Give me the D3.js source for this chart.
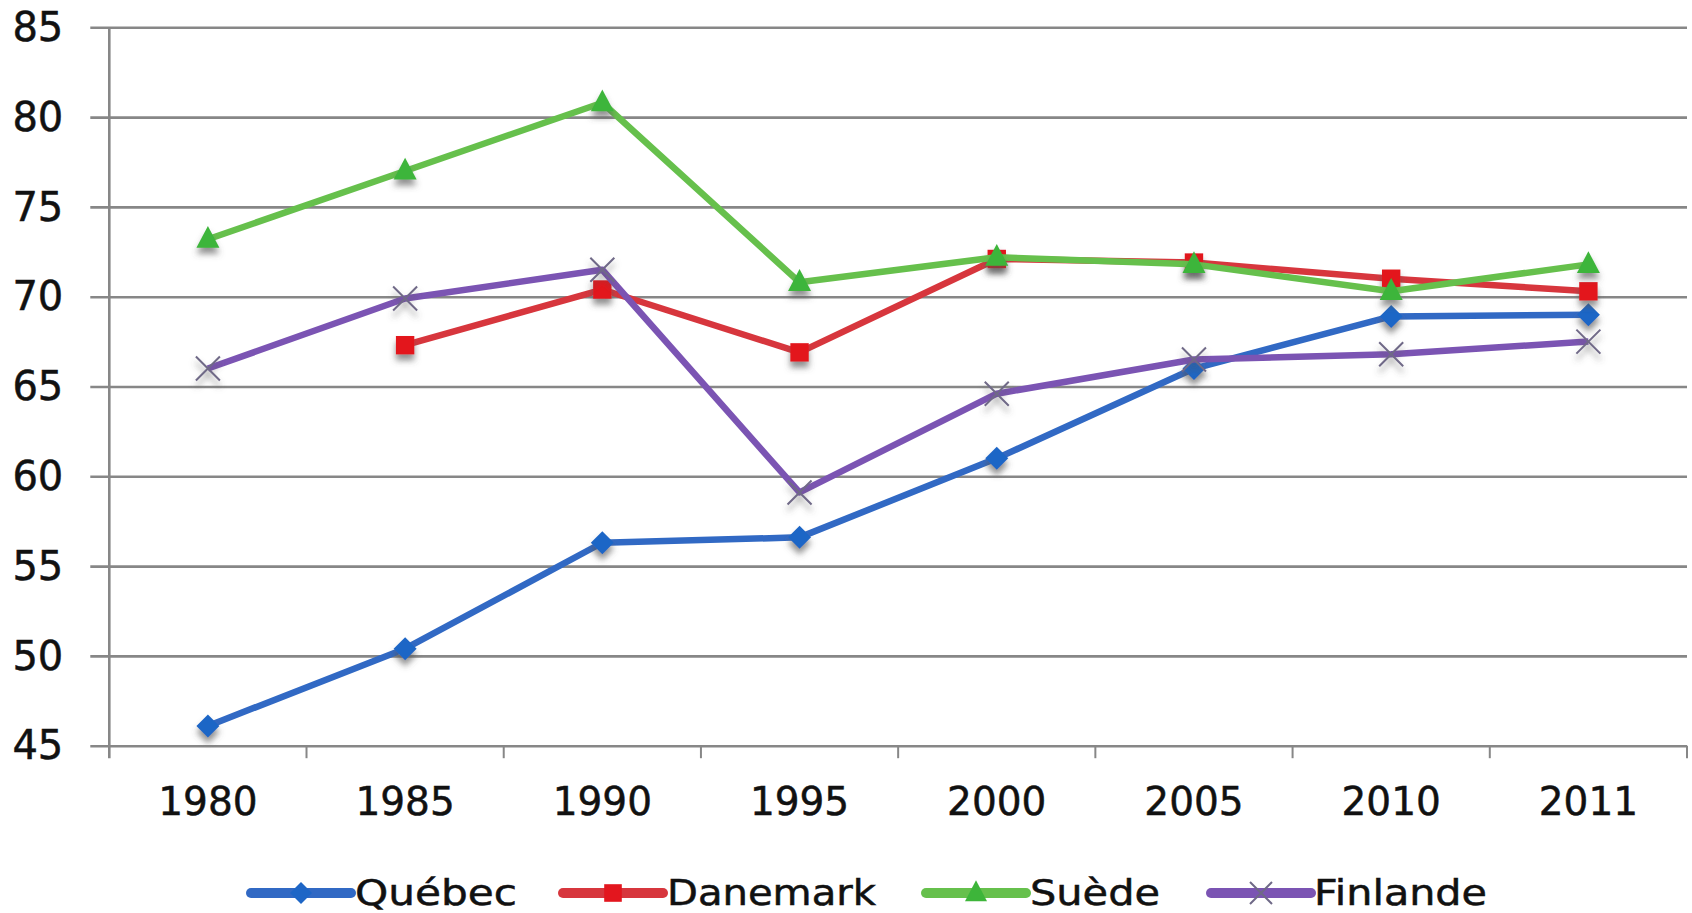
<!DOCTYPE html>
<html>
<head>
<meta charset="utf-8">
<script src="https://cdn.jsdelivr.net/npm/d3@7"></script>
<style>
  html, body { margin: 0; padding: 0; background: #fff; }
  svg { display: block; }
  text { font-family: "DejaVu Sans", sans-serif; fill: #111; stroke: #111; stroke-width: 0.5px; }
</style>
</head>
<body>
<svg id="chart" width="1692" height="913"></svg>
<script>
const years = ["1980", "1985", "1990", "1995", "2000", "2005", "2010", "2011"];
const yTicks = [45, 50, 55, 60, 65, 70, 75, 80, 85];
const quebec   = [46.1, 50.4, 56.3, 56.6, 61.0, 66.0, 68.9, 69.0];
const danemark = [null, 67.3, 70.4, 66.9, 72.1, 71.9, 71.0, 70.3];
const suede    = [73.2, 77.0, 80.8, 70.8, 72.2, 71.8, 70.3, 71.8];
const finlande = [66.0, 69.9, 71.5, 59.1, 64.6, 66.5, 66.8, 67.5];
const seriesNames = ["Québec", "Danemark", "Suède", "Finlande"];

const series = [
  { name: seriesNames[0], values: quebec,   line: "#3169C4", fill: "#1E66C6", marker: "diamond" },
  { name: seriesNames[1], values: danemark, line: "#D7363D", fill: "#E3161E", marker: "square" },
  { name: seriesNames[2], values: suede,    line: "#66C04C", fill: "#3DB53A", marker: "triangle" },
  { name: seriesNames[3], values: finlande, line: "#7B54B3", fill: "#6F6987", marker: "x" }
];

const svg = d3.select("#chart");
const plotLeft = 109.3, plotRight = 1687, plotTop = 27.3, plotBottom = 745.7;

const defs = svg.append("defs");
const f = defs.append("filter").attr("id", "shadow")
  .attr("x", "-60%").attr("y", "-60%").attr("width", "220%").attr("height", "260%");
f.append("feDropShadow").attr("dx", 0).attr("dy", 6).attr("stdDeviation", 3)
  .attr("flood-color", "#555").attr("flood-opacity", 0.65);

const x = d3.scaleBand().domain(years).range([plotLeft, plotRight]).padding(0);
const y = d3.scaleLinear().domain([45, 85]).range([plotBottom, plotTop]);
const cx = d => x(d) + x.bandwidth() / 2;

// Y axis with gridlines
const yAxis = svg.append("g").attr("transform", `translate(${plotLeft},0)`)
  .call(d3.axisLeft(y).tickValues(yTicks).tickSize(-(plotRight - plotLeft)).tickPadding(0));
yAxis.select(".domain").remove();
yAxis.selectAll(".tick line").attr("x1", -19).attr("stroke", "#878787").attr("stroke-width", 2.6);
yAxis.selectAll(".tick text")
  .attr("x", -46).attr("dy", "0.33em")
  .style("font-size", "40px").attr("fill", "#111");

// vertical axis line
svg.append("line")
  .attr("x1", plotLeft).attr("x2", plotLeft)
  .attr("y1", y(85)).attr("y2", plotBottom + 12.5)
  .attr("stroke", "#878787").attr("stroke-width", 2.6);

// X axis ticks at category boundaries
const bounds = years.map(d => x(d)).slice(1).concat([x(years[years.length - 1]) + x.bandwidth()]);
svg.append("g").selectAll("line").data(bounds).join("line")
  .attr("x1", d => d).attr("x2", d => d)
  .attr("y1", plotBottom).attr("y2", plotBottom + 12.5)
  .attr("stroke", "#878787").attr("stroke-width", 2);

svg.append("g").selectAll("text").data(years).join("text")
  .attr("x", d => cx(d)).attr("y", 815)
  .attr("text-anchor", "middle")
  .style("font-size", "39px")
  .text(d => d);

function drawMarker(g, type, color, s) {
  if (type === "diamond") {
    g.append("path").attr("d", `M0,${-s}L${s},0L0,${s}L${-s},0Z`).attr("fill", color);
  } else if (type === "square") {
    const h = s * 0.8;
    g.append("rect").attr("x", -h).attr("y", -h).attr("width", 2 * h).attr("height", 2 * h).attr("fill", color);
  } else if (type === "triangle") {
    g.append("path").attr("d", `M0,${-s * 1.15}L${s},${s * 0.75}L${-s},${s * 0.75}Z`).attr("fill", color);
  } else {
    g.append("path").attr("d", `M${-s},${-s}L${s},${s}M${s},${-s}L${-s},${s}`)
      .attr("stroke", color).attr("stroke-width", 2).attr("fill", "none");
  }
}

const line = d3.line()
  .defined(d => d.v != null)
  .x(d => cx(d.year))
  .y(d => y(d.v));

series.forEach(s => {
  const pts = years.map((yr, i) => ({ year: yr, v: s.values[i] }));
  const g = svg.append("g");
  g.append("path").datum(pts)
    .attr("d", line)
    .attr("fill", "none")
    .attr("stroke", s.line)
    .attr("stroke-width", 6.5)
    .attr("stroke-linejoin", "round");
  g.selectAll("g.m").data(pts.filter(p => p.v != null)).join("g")
    .attr("class", "m")
    .attr("transform", p => `translate(${cx(p.year)},${y(p.v)})`)
    .attr("filter", "url(#shadow)")
    .each(function () { drawMarker(d3.select(this), s.marker, s.fill, s.marker === "x" ? 12 : 11.5); });
});

// Legend
const legendItems = [
  { lx: 251, tx: 355 },
  { lx: 563, tx: 667 },
  { lx: 926, tx: 1030 },
  { lx: 1211, tx: 1314 }
];
const legendWidths = [162, 209, 130, 173];
const lg = svg.append("g");
series.forEach((s, i) => {
  const it = legendItems[i];
  const g = lg.append("g");
  g.append("line")
    .attr("x1", it.lx).attr("x2", it.lx + 100)
    .attr("y1", 893).attr("y2", 893)
    .attr("stroke", s.line).attr("stroke-width", 10).attr("stroke-linecap", "round");
  const mg = g.append("g").attr("transform", `translate(${it.lx + 50},893)`);
  drawMarker(mg, s.marker, s.fill, 11);
  g.append("text")
    .attr("x", it.tx).attr("y", 905)
    .style("font-size", "36px")
    .attr("textLength", legendWidths[i])
    .attr("lengthAdjust", "spacingAndGlyphs")
    .text(s.name);
});
</script>
</body>
</html>
